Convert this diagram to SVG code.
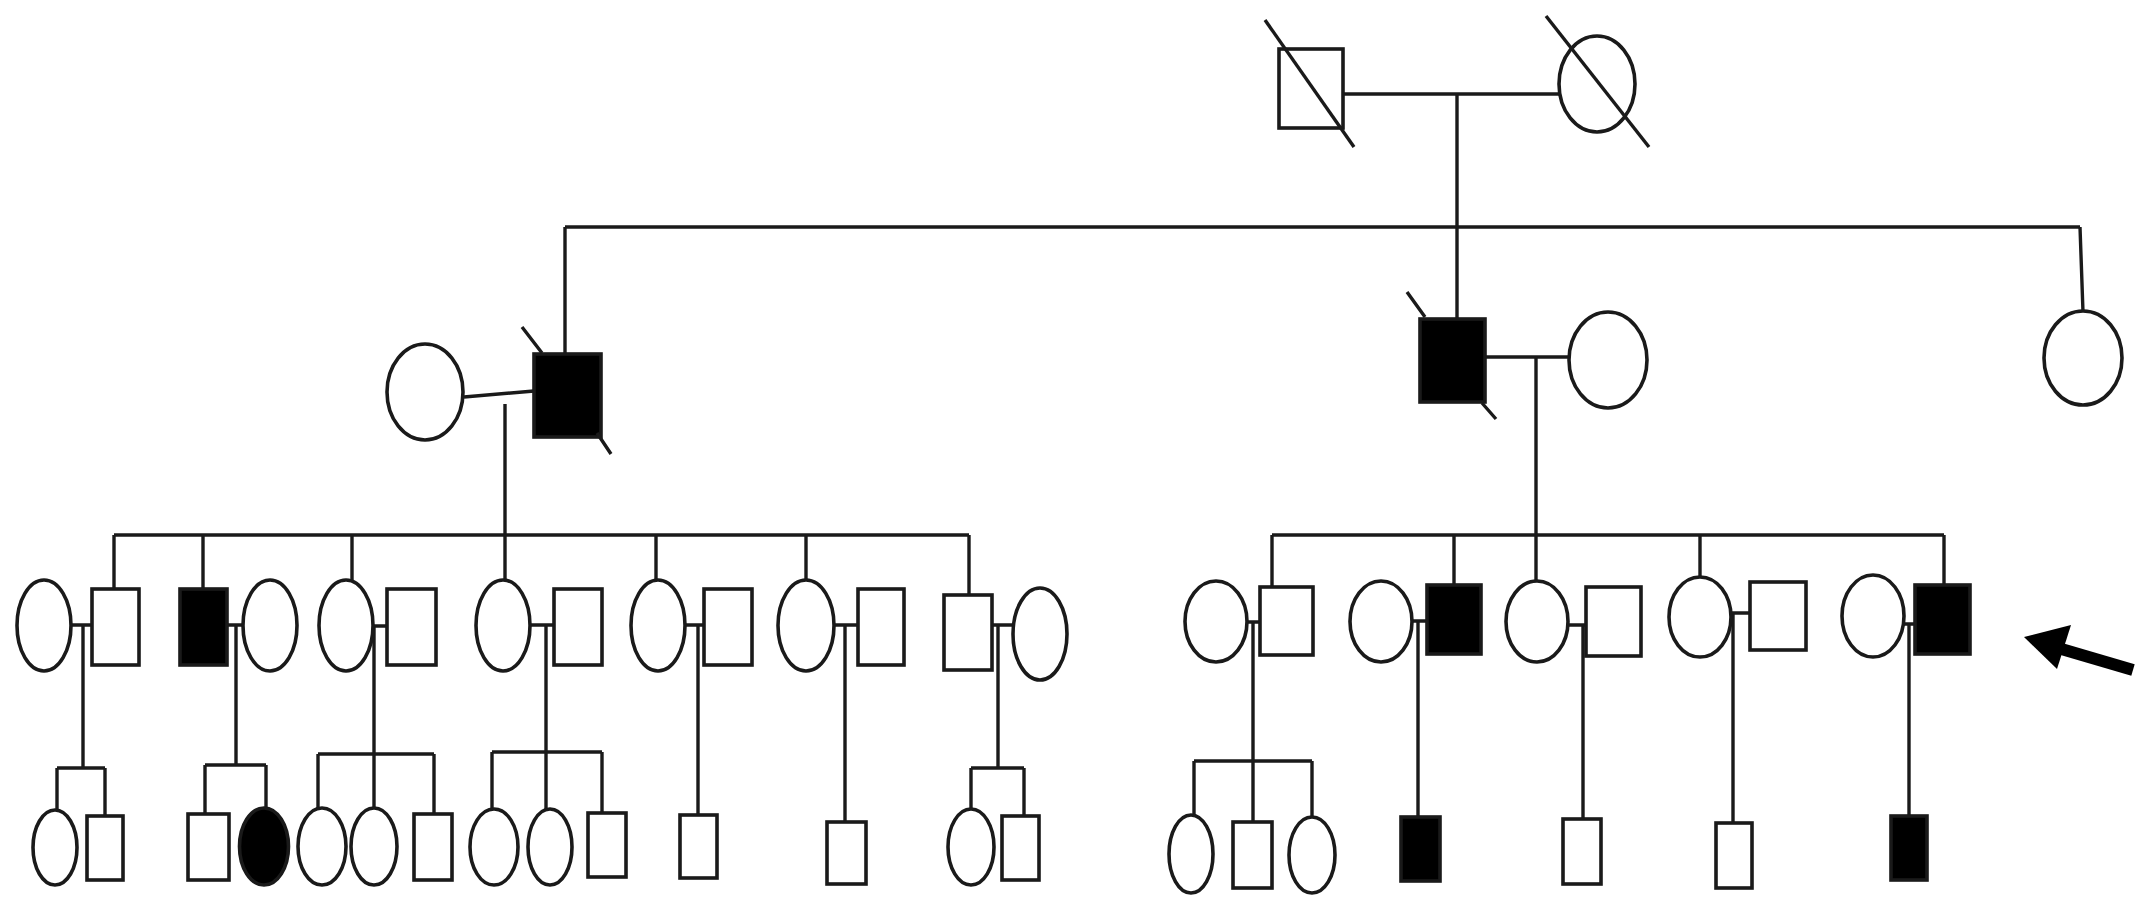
<svg xmlns="http://www.w3.org/2000/svg" width="2150" height="918" viewBox="0 0 2150 918">
<style>
.s{fill:#fff;stroke:#1a1a1a;stroke-width:3.6}
.a{fill:#000;stroke:#1a1a1a;stroke-width:3.6}
.l{fill:none;stroke:#1a1a1a;stroke-width:3.4}
.d{fill:none;stroke:#1a1a1a;stroke-width:3.4}
</style>
<rect width="2150" height="918" fill="#fff"/>
<g id="connectors" class="l">
<path d="M1343 94H1559M1457 94V319"/>
<path d="M565 227H2080M565 227V354M2080 227L2083 312"/>
<path d="M464 397L534 391M505 404V535"/>
<path d="M1485 357H1569M1536 357V581"/>
<path d="M114 535H969M114 535V589M203 535V589M352 535V580M505 535V580M656 535V580M806 535V580M969 535V595"/>
<path d="M71 625H92M83 625V768M57 768H105M57 768V810M105 768V816"/>
<path d="M227 625H243M236 625V765M205 765H266M205 765V814M266 765V808"/>
<path d="M373 626H387M374 626V754M318 754H434M318 754V808M374 754V808M434 754V814"/>
<path d="M530 625H554M546 625V752M492 752H602M492 752V809M546 752V809M602 752V813"/>
<path d="M686 625H704M698 625V815"/>
<path d="M835 625H858M845 625V822"/>
<path d="M992 625H1012M998 625V768M971 768H1024M971 768V809M1024 768V816"/>
<path d="M1272 535H1944M1272 535V587M1454 535V585M1700 535V577M1944 535V585"/>
<path d="M1247 622H1260M1253 622V761M1194 761H1312M1194 761V815M1253 761V822M1312 761V817"/>
<path d="M1412 621H1427M1418 621V817"/>
<path d="M1568 625H1586M1583 625V819"/>
<path d="M1731 613H1750M1733 613V823"/>
<path d="M1904 624H1915M1909 624V816"/>
</g>
<g id="gen1">
<g id="I-1"><rect class="s" x="1279" y="49" width="64" height="79"/><path class="d" d="M1265 20L1354 147"/></g>
<g id="I-2"><ellipse class="s" cx="1597" cy="84" rx="38" ry="48"/><path class="d" d="M1546 16L1649 147"/></g>
</g>
<g id="gen2">
<g id="II-1"><ellipse class="s" cx="425" cy="392" rx="38" ry="48"/></g>
<g id="II-2"><rect class="a" x="534" y="354" width="67" height="83"/><path class="d" d="M522 327L542 353M597 433L611 454"/></g>
<g id="II-3"><rect class="a" x="1420" y="319" width="65" height="83"/><path class="d" d="M1407 292L1425 317M1482 403L1496 419"/></g>
<g id="II-4"><ellipse class="s" cx="1608" cy="360" rx="39" ry="48"/></g>
<g id="II-5"><ellipse class="s" cx="2083" cy="358" rx="39" ry="47"/></g>
</g>
<g id="gen3-left">
<g id="III-1"><ellipse class="s" cx="44" cy="625.5" rx="27" ry="45.5"/></g>
<g id="III-2"><rect class="s" x="92" y="589" width="47" height="76"/></g>
<g id="III-3"><rect class="a" x="180" y="589" width="47" height="76"/></g>
<g id="III-4"><ellipse class="s" cx="270" cy="625.5" rx="27" ry="45.5"/></g>
<g id="III-5"><ellipse class="s" cx="346" cy="625.5" rx="27" ry="45.5"/></g>
<g id="III-6"><rect class="s" x="387" y="589" width="49" height="76"/></g>
<g id="III-7"><ellipse class="s" cx="503" cy="625.5" rx="27" ry="45.5"/></g>
<g id="III-8"><rect class="s" x="554" y="589" width="48" height="76"/></g>
<g id="III-9"><ellipse class="s" cx="658" cy="625.5" rx="27" ry="45.5"/></g>
<g id="III-10"><rect class="s" x="704" y="589" width="48" height="76"/></g>
<g id="III-11"><ellipse class="s" cx="806" cy="625.5" rx="28" ry="45.5"/></g>
<g id="III-12"><rect class="s" x="858" y="589" width="46" height="76"/></g>
<g id="III-13"><rect class="s" x="944" y="595" width="48" height="75"/></g>
<g id="III-14"><ellipse class="s" cx="1040" cy="634" rx="27" ry="46"/></g>
</g>
<g id="gen3-right">
<g id="III-15"><ellipse class="s" cx="1216" cy="621.5" rx="31" ry="40.5"/></g>
<g id="III-16"><rect class="s" x="1260" y="587" width="53" height="68"/></g>
<g id="III-17"><ellipse class="s" cx="1381" cy="621.5" rx="31" ry="40.5"/></g>
<g id="III-18"><rect class="a" x="1427" y="585" width="54" height="69"/></g>
<g id="III-19"><ellipse class="s" cx="1537" cy="621.5" rx="31" ry="40.5"/></g>
<g id="III-20"><rect class="s" x="1586" y="587" width="55" height="69"/></g>
<g id="III-21"><ellipse class="s" cx="1700" cy="617" rx="31" ry="40"/></g>
<g id="III-22"><rect class="s" x="1750" y="582" width="56" height="68"/></g>
<g id="III-23"><ellipse class="s" cx="1873" cy="616" rx="31" ry="41"/></g>
<g id="III-24"><rect class="a" x="1915" y="585" width="55" height="69"/></g>
</g>
<g id="gen4-left">
<g id="IV-1"><ellipse class="s" cx="55" cy="847.5" rx="22" ry="37.5"/></g>
<g id="IV-2"><rect class="s" x="87" y="816" width="36" height="64"/></g>
<g id="IV-3"><rect class="s" x="188" y="814" width="41" height="66"/></g>
<g id="IV-4"><ellipse class="a" cx="264" cy="846.5" rx="24.5" ry="38.5"/></g>
<g id="IV-5"><ellipse class="s" cx="322" cy="846.5" rx="24" ry="38.5"/></g>
<g id="IV-6"><ellipse class="s" cx="374" cy="846.5" rx="23" ry="38.5"/></g>
<g id="IV-7"><rect class="s" x="414" y="814" width="38" height="66"/></g>
<g id="IV-8"><ellipse class="s" cx="494" cy="847" rx="24" ry="38"/></g>
<g id="IV-9"><ellipse class="s" cx="550" cy="847" rx="22" ry="38"/></g>
<g id="IV-10"><rect class="s" x="588" y="813" width="38" height="64"/></g>
<g id="IV-11"><rect class="s" x="680" y="815" width="37" height="63"/></g>
<g id="IV-12"><rect class="s" x="827" y="822" width="39" height="62"/></g>
<g id="IV-13"><ellipse class="s" cx="971" cy="847" rx="23" ry="38"/></g>
<g id="IV-14"><rect class="s" x="1002" y="816" width="37" height="64"/></g>
</g>
<g id="gen4-right">
<g id="IV-15"><ellipse class="s" cx="1191" cy="854" rx="22" ry="39"/></g>
<g id="IV-16"><rect class="s" x="1233" y="822" width="39" height="66"/></g>
<g id="IV-17"><ellipse class="s" cx="1312" cy="855" rx="23" ry="38"/></g>
<g id="IV-18"><rect class="a" x="1401" y="817" width="39" height="64"/></g>
<g id="IV-19"><rect class="s" x="1563" y="819" width="38" height="65"/></g>
<g id="IV-20"><rect class="s" x="1716" y="823" width="36" height="65"/></g>
<g id="IV-21"><rect class="a" x="1891" y="816" width="36" height="64"/></g>
</g>
<g id="proband-arrow">
<path d="M2058 648L2133 670" fill="none" stroke="#000" stroke-width="12"/>
<polygon points="2024,637 2071,625 2057,669" fill="#000"/>
</g>
</svg>
